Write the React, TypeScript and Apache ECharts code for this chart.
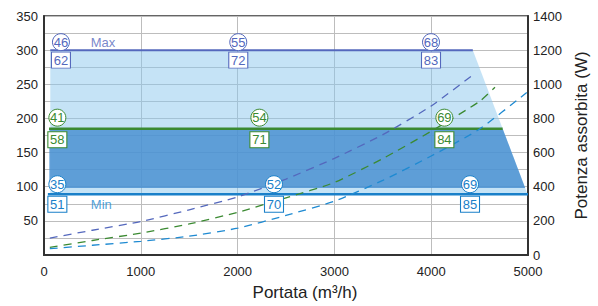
import React, { useEffect, useRef } from 'react';
import * as echarts from 'echarts';

// Axis ranges / ticks
const xTickStep = 1000;
const leftTickStep = 25;
const rightTickStep = 200;

// Operating levels (left axis units)
const maxLevel = 300;
const midLevel = 185;
const minLevel = 89;

// Horizontal working lines (flow, left value)
const maxLine: [number, number][] = [[65, 300], [4430, 300]];
const midLine: [number, number][] = [[52, 185], [4738, 185]];
const minLine: [number, number][] = [[40, 89], [5000, 89]];

// Working zones (flow, left value)
const lightZone: [number, number][] = [[65, 300], [4430, 300], [4995, 89], [65, 89]];
const darkZone: [number, number][] = [[55, 185], [4738, 185], [4971, 98], [55, 98]];

// Absorbed power curves (flow, W)
const maxPower: [number, number][] = [
  [60, 99], [500, 145], [1000, 196], [1500, 265], [2000, 340], [2500, 445],
  [3000, 566], [3500, 705], [4000, 873], [4435, 1057],
];
const midPower: [number, number][] = [
  [60, 45], [500, 85], [1000, 128], [1500, 182], [2000, 250], [2500, 335],
  [3000, 425], [3500, 565], [4000, 725], [4500, 900], [4659, 983],
];
const minPower: [number, number][] = [
  [60, 37], [500, 57], [1000, 80], [1500, 110], [2000, 157], [2500, 232],
  [3000, 315], [3500, 437], [4000, 580], [4500, 738], [4987, 952],
];

// Sound marks (flow positions, circled values, boxed values)
const maxFlows = [175, 2007, 3998];
const maxCircle = [46, 55, 68];
const maxBox = [62, 72, 83];
const midFlows = [138, 2225, 4136];
const midCircle = [41, 54, 69];
const midBox = [58, 71, 84];
const minFlows = [138, 2376, 4401];
const minCircle = [35, 52, 69];
const minBox = [51, 70, 85];

// Level names
const maxName = 'Max';
const maxNameFlow = 610;
const minName = 'Min';
const minNameFlow = 592;

const FONT = '"Liberation Sans", Arial, Helvetica, sans-serif';
const C_MAX = '#5468bd';
const C_MID = '#3b8a32';
const C_MIN = '#1a80c9';
const C_MIN_DASH = '#1e8ad2';

function zoneSeries(points: [number, number][], fill: string, z: number) {
  return {
    type: 'custom',
    xAxisIndex: 0,
    yAxisIndex: 0,
    z,
    silent: true,
    clip: true,
    data: points,
    encode: { x: 0, y: 1 },
    renderItem: (params: any, api: any) => {
      if (params.dataIndex !== 0) return null;
      const pts = points.map((p) => api.coord(p));
      return { type: 'polygon', shape: { points: pts }, style: { fill } };
    },
  };
}

function solidLine(data: [number, number][], color: string, width: number) {
  return {
    type: 'line',
    xAxisIndex: 0,
    yAxisIndex: 0,
    z: 4,
    data,
    showSymbol: false,
    silent: true,
    lineStyle: { color, width, type: 'solid' },
  };
}

function dashCurve(data: [number, number][], color: string) {
  return {
    type: 'line',
    xAxisIndex: 0,
    yAxisIndex: 1,
    z: 4,
    data,
    smooth: 0.2,
    showSymbol: false,
    silent: true,
    lineStyle: { color, width: 1.3, type: [8, 6] },
  };
}

function markSeries(
  flows: number[],
  vals: number[],
  level: number,
  kind: 'circle' | 'rect',
  color: string,
  offsetPx: number,
) {
  return {
    type: 'scatter',
    xAxisIndex: 0,
    yAxisIndex: 0,
    z: 6,
    silent: true,
    symbol: kind,
    symbolSize: kind === 'circle' ? 17 : [19, 16],
    symbolOffset: [0, offsetPx],
    itemStyle: { color: '#ffffff', borderColor: color, borderWidth: 1, opacity: 1 },
    label: {
      show: true,
      position: 'inside',
      formatter: (p: any) => String(p.data[2]),
      color,
      fontSize: 13,
      fontFamily: FONT,
    },
    data: flows.map((f, i) => [f, level, vals[i]]),
  };
}

function nameSeries(text: string, flow: number, level: number, color: string, offsetPx: number) {
  return {
    type: 'scatter',
    xAxisIndex: 0,
    yAxisIndex: 0,
    z: 6,
    silent: true,
    symbol: 'circle',
    symbolSize: 1,
    symbolOffset: [0, offsetPx],
    itemStyle: { color: 'rgba(0,0,0,0)' },
    label: {
      show: true,
      position: 'inside',
      formatter: () => text,
      color,
      fontSize: 13,
      fontFamily: FONT,
    },
    data: [[flow, level]],
  };
}

export default function App() {
  const ref = useRef<HTMLDivElement>(null);

  useEffect(() => {
    if (!ref.current) return;
    const chart = echarts.init(ref.current, undefined, { renderer: 'svg' });
    const axisLabel = { color: '#222', fontSize: 13, fontFamily: FONT };
    chart.setOption({
      animation: false,
      backgroundColor: '#ffffff',
      textStyle: { fontFamily: FONT },
      grid: {
        left: 44,
        right: 70,
        top: 16,
        bottom: 49,
        show: true,
        borderColor: '#333',
        borderWidth: 1.5,
        backgroundColor: 'transparent',
      },
      xAxis: {
        type: 'value',
        min: 0,
        max: 5000,
        interval: xTickStep,
        axisLine: { show: true, lineStyle: { color: '#333', width: 2 } },
        axisTick: { show: false },
        axisLabel: { ...axisLabel, margin: 10, formatter: (v: number) => String(v) },
        splitLine: { show: true, lineStyle: { color: '#bdbdbd', width: 1 } },
        name: 'Portata (m³/h)',
        nameLocation: 'middle',
        nameGap: 29,
        nameTextStyle: { color: '#222', fontSize: 17, fontFamily: FONT, padding: [0, 0, 0, 38] },
      },
      yAxis: [
        {
          type: 'value',
          position: 'left',
          min: 0,
          max: 350,
          interval: leftTickStep,
          axisLine: { show: true, lineStyle: { color: '#333', width: 2 } },
          axisTick: { show: false },
          axisLabel: {
            ...axisLabel,
            margin: 6,
            formatter: (v: number) => (v > 0 && v % 50 === 0 ? String(v) : ''),
          },
          splitLine: { show: true, lineStyle: { color: '#bdbdbd', width: 1 } },
        },
        {
          type: 'value',
          position: 'right',
          min: 0,
          max: 1400,
          interval: rightTickStep,
          axisLine: { show: true, lineStyle: { color: '#333', width: 2 } },
          axisTick: { show: false },
          axisLabel: { ...axisLabel, margin: 5, formatter: (v: number) => String(v) },
          splitLine: { show: false },
          name: 'Potenza assorbita (W)',
          nameLocation: 'middle',
          nameRotate: 90,
          nameGap: 42,
          nameTextStyle: { color: '#222', fontSize: 17, fontFamily: FONT },
        },
      ],
      series: [
        zoneSeries(lightZone, 'rgba(140,200,238,0.5)', 1),
        zoneSeries(darkZone, 'rgba(67,140,207,0.8)', 2),
        solidLine(maxLine, C_MAX, 2),
        solidLine(midLine, C_MID, 2.5),
        solidLine(minLine, C_MIN, 2.5),
        dashCurve(maxPower, C_MAX),
        dashCurve(midPower, C_MID),
        dashCurve(minPower, C_MIN_DASH),
        markSeries(maxFlows, maxCircle, maxLevel, 'circle', C_MAX, -8),
        markSeries(maxFlows, maxBox, maxLevel, 'rect', C_MAX, 10),
        markSeries(midFlows, midCircle, midLevel, 'circle', C_MID, -11),
        markSeries(midFlows, midBox, midLevel, 'rect', C_MID, 11),
        markSeries(minFlows, minCircle, minLevel, 'circle', C_MIN, -10),
        markSeries(minFlows, minBox, minLevel, 'rect', C_MIN, 10),
        nameSeries(maxName, maxNameFlow, maxLevel, C_MAX, -8),
        nameSeries(minName, minNameFlow, minLevel, C_MIN_DASH, 10),
      ],
    });
    return () => chart.dispose();
  }, []);

  return (
    <div
      ref={ref}
      style={{ position: 'fixed', left: 0, top: 0, width: 598, height: 306, background: '#fff' }}
    />
  );
}
